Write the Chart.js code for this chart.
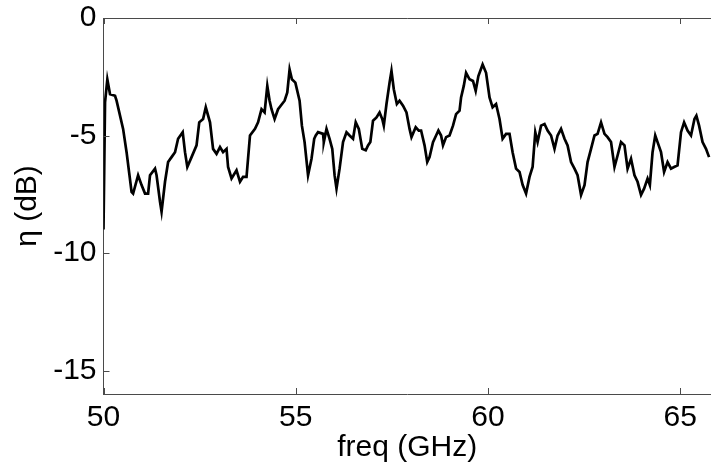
<!DOCTYPE html>
<html>
<head>
<meta charset="utf-8">
<script src="https://cdn.jsdelivr.net/npm/chart.js@4"></script>
<style>
  html, body { margin: 0; padding: 0; background: #fff; }
  canvas { display: block; }
</style>
</head>
<body>
<canvas id="chart" width="711" height="468"></canvas>
<script>
// frequency axis (GHz)
const freq = [
  50.00, 50.04, 50.10, 50.17, 50.30, 50.34, 50.51, 50.60, 50.73, 50.77,
  50.90, 50.99, 51.08, 51.16, 51.21, 51.34, 51.38, 51.47, 51.51, 51.60,
  51.68, 51.77, 51.86, 51.94, 52.06, 52.12, 52.18, 52.29, 52.42, 52.49,
  52.59, 52.66, 52.77, 52.85, 52.94, 53.03, 53.11, 53.20, 53.24, 53.33,
  53.46, 53.55, 53.63, 53.72, 53.81, 53.94, 54.02, 54.11, 54.19, 54.26,
  54.32, 54.37, 54.45, 54.54, 54.71, 54.78, 54.84, 54.90, 54.99, 55.10,
  55.16, 55.23, 55.32, 55.41, 55.48, 55.52, 55.58, 55.71, 55.73, 55.80,
  55.88, 55.95, 56.01, 56.06, 56.14, 56.23, 56.32, 56.40, 56.49, 56.56,
  56.64, 56.73, 56.82, 56.88, 56.94, 57.01, 57.10, 57.18, 57.25, 57.29,
  57.36, 57.44, 57.49, 57.55, 57.63, 57.70, 57.79, 57.88, 57.96, 58.01,
  58.12, 58.20, 58.26, 58.35, 58.42, 58.48, 58.57, 58.65, 58.71, 58.78,
  58.83, 58.91, 59.00, 59.09, 59.17, 59.26, 59.30, 59.37, 59.43, 59.52,
  59.61, 59.68, 59.75, 59.86, 59.95, 60.04, 60.12, 60.21, 60.30, 60.38,
  60.47, 60.56, 60.64, 60.73, 60.82, 60.90, 60.99, 61.08, 61.16, 61.23,
  61.29, 61.38, 61.47, 61.55, 61.64, 61.73, 61.81, 61.90, 61.99, 62.07,
  62.16, 62.25, 62.33, 62.42, 62.51, 62.59, 62.68, 62.77, 62.85, 62.94,
  63.03, 63.11, 63.20, 63.29, 63.37, 63.46, 63.55, 63.63, 63.72, 63.81,
  63.89, 63.98, 64.06, 64.15, 64.21, 64.28, 64.35, 64.41, 64.50, 64.58,
  64.67, 64.76, 64.84, 64.93, 65.02, 65.10, 65.19, 65.28, 65.37, 65.42,
  65.49, 65.58, 65.67, 65.75
];

// efficiency eta (dB)
const eta = [
  -9.00, -3.59, -2.61, -3.24, -3.31, -3.52, -4.72, -5.71, -7.40, -7.47,
  -6.69, -7.11, -7.47, -7.47, -6.69, -6.41, -6.69, -7.82, -8.24, -6.97,
  -6.13, -5.92, -5.71, -5.14, -4.86, -5.71, -6.34, -5.92, -5.42, -4.44,
  -4.30, -3.80, -4.44, -5.57, -5.78, -5.49, -5.71, -5.57, -6.34, -6.83,
  -6.48, -6.97, -6.76, -6.76, -5.00, -4.72, -4.44, -3.88, -4.02, -2.89,
  -3.52, -3.88, -4.30, -3.88, -3.52, -3.17, -2.19, -2.61, -2.75, -3.52,
  -4.58, -5.28, -6.69, -5.99, -5.14, -5.00, -4.86, -4.93, -5.28, -4.72,
  -5.14, -5.57, -6.69, -7.26, -6.41, -5.28, -4.86, -5.00, -5.14, -4.44,
  -4.72, -5.57, -5.63, -5.42, -5.28, -4.37, -4.23, -4.02, -4.30, -4.58,
  -3.66, -2.75, -2.25, -3.03, -3.66, -3.52, -3.73, -4.02, -4.72, -5.07,
  -4.65, -4.79, -4.79, -5.42, -6.13, -5.92, -5.28, -5.00, -4.79, -5.00,
  -5.42, -5.07, -5.00, -4.58, -4.09, -3.94, -3.38, -2.89, -2.33, -2.61,
  -2.68, -3.10, -2.47, -1.98, -2.33, -3.38, -3.80, -3.66, -4.30, -5.14,
  -4.93, -4.93, -5.71, -6.41, -6.55, -7.10, -7.47, -6.76, -6.34, -4.86,
  -5.28, -4.58, -4.51, -4.79, -5.00, -5.57, -5.00, -4.72, -5.14, -5.42,
  -6.13, -6.41, -6.69, -7.53, -7.11, -6.13, -5.57, -5.00, -4.93, -4.44,
  -4.93, -5.07, -5.28, -6.34, -5.85, -5.28, -5.42, -6.41, -5.99, -6.69,
  -6.97, -7.53, -7.26, -6.83, -7.11, -5.71, -5.00, -5.28, -5.71, -6.55,
  -6.13, -6.41, -6.34, -6.27, -4.86, -4.44, -4.79, -5.00, -4.30, -4.16,
  -4.58, -5.28, -5.57, -5.92
];

const xTicks = [50, 55, 60, 65];
const yTicks = [0, -5, -10, -15];

const axisColor = '#4a4a4a';
const fontFamily = '"Liberation Sans", Arial, sans-serif';
const labelFont = { family: fontFamily, size: 30 };
// small lineHeight so the "0" label does not push the plot down
const yTickFont = { family: fontFamily, size: 30, lineHeight: 0.5 };

// MATLAB-style inward ticks plus the top box line
const innerTicks = {
  id: 'innerTicks',
  afterDraw(chart) {
    const { ctx, chartArea: a, scales: { x, y } } = chart;
    const len = 6;
    ctx.save();
    ctx.strokeStyle = axisColor;
    ctx.lineWidth = 1;
    ctx.beginPath();
    ctx.moveTo(a.left, Math.round(a.top) + 0.5);
    ctx.lineTo(a.right, Math.round(a.top) + 0.5);
    xTicks.forEach(v => {
      const px = Math.round(x.getPixelForValue(v)) + 0.5;
      ctx.moveTo(px, a.bottom);
      ctx.lineTo(px, a.bottom - len);
      ctx.moveTo(px, a.top);
      ctx.lineTo(px, a.top + len);
    });
    yTicks.forEach(v => {
      const py = Math.round(y.getPixelForValue(v)) + 0.5;
      ctx.moveTo(a.left, py);
      ctx.lineTo(a.left + len, py);
    });
    ctx.stroke();
    ctx.restore();
  }
};

new Chart(document.getElementById('chart'), {
  type: 'line',
  data: {
    datasets: [{
      data: freq.map((f, i) => ({ x: f, y: eta[i] })),
      borderColor: '#000',
      borderWidth: 2.7,
      pointRadius: 0,
      tension: 0,
      fill: false
    }]
  },
  options: {
    responsive: false,
    animation: false,
    layout: { padding: { top: 18, right: 0, left: 0, bottom: 0 } },
    plugins: { legend: { display: false }, tooltip: { enabled: false } },
    scales: {
      x: {
        type: 'linear',
        min: 50,
        max: 65.8,
        afterBuildTicks: s => { s.ticks = xTicks.map(v => ({ value: v })); },
        afterFit: s => { s.height = 74; },
        grid: { display: false, drawTicks: false },
        border: { display: true, color: axisColor, width: 1 },
        ticks: { color: '#000', font: labelFont, padding: 6, maxRotation: 0 },
        title: { display: true, text: 'freq (GHz)', color: '#000', font: labelFont, padding: { top: 0, bottom: 2 } }
      },
      y: {
        min: -16,
        max: 0,
        afterBuildTicks: s => { s.ticks = yTicks.map(v => ({ value: v })); },
        afterFit: s => { s.width = 103.5; },
        grid: { display: false, drawTicks: false },
        border: { display: true, color: axisColor, width: 1 },
        ticks: { color: '#000', font: yTickFont, padding: 7 },
        title: { display: true, text: 'η (dB)', color: '#000', font: labelFont, padding: { top: 10, bottom: 0 } }
      }
    }
  },
  plugins: [innerTicks]
});
</script>
</body>
</html>
